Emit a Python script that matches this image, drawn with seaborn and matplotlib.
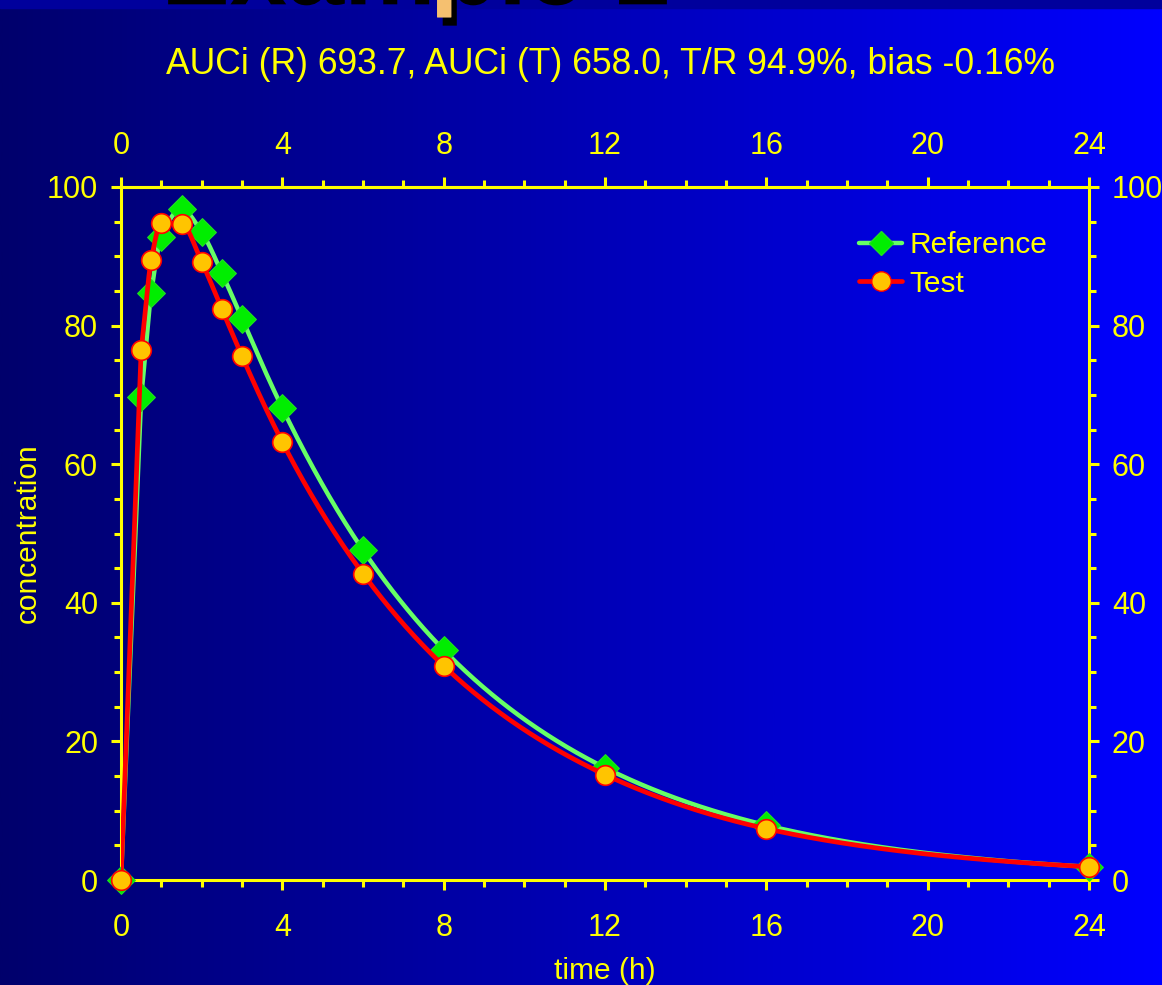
import numpy as np
import pandas as pd
import matplotlib
matplotlib.use("Agg")
import matplotlib.pyplot as plt
from matplotlib.lines import Line2D
from matplotlib.ticker import MultipleLocator
import matplotlib.patheffects as pe
import seaborn as sns

# ---- data -------------------------------------------------------------
time_h = [0, 0.5, 0.75, 1, 1.5, 2, 2.5, 3, 4, 6, 8, 12, 16, 24]
reference = [0, 69.7, 84.7, 92.8, 96.8, 93.5, 87.6, 81.0, 68.1, 47.6, 33.2, 16.2, 7.9, 1.9]
test = [0, 76.5, 89.5, 94.8, 94.7, 89.2, 82.4, 75.6, 63.2, 44.2, 30.9, 15.2, 7.4, 1.9]
series_names = ["Reference", "Test"]
title_text = "AUCi (R) 693.7, AUCi (T) 658.0, T/R 94.9%, bias -0.16%"
heading_text = "Example 1"
x_ticks = [0, 4, 8, 12, 16, 20, 24]
y_ticks = [0, 20, 40, 60, 80, 100]


def pchip(x, y, xs):
    """Monotone cubic (Fritsch-Carlson) curve through the sample points."""
    x = np.asarray(x, float)
    y = np.asarray(y, float)
    h = np.diff(x)
    d = np.diff(y) / h
    n = len(x)
    m = np.zeros(n)
    for k in range(1, n - 1):
        if d[k - 1] * d[k] > 0:
            w1 = 2 * h[k] + h[k - 1]
            w2 = h[k] + 2 * h[k - 1]
            m[k] = (w1 + w2) / (w1 / d[k - 1] + w2 / d[k])
    m[0] = d[0]
    m[-1] = d[-1]
    idx = np.clip(np.searchsorted(x, xs) - 1, 0, n - 2)
    t = (xs - x[idx]) / h[idx]
    h00 = 2 * t**3 - 3 * t**2 + 1
    h10 = t**3 - 2 * t**2 + t
    h01 = -2 * t**3 + 3 * t**2
    h11 = t**3 - t**2
    return (h00 * y[idx] + h10 * h[idx] * m[idx]
            + h01 * y[idx + 1] + h11 * h[idx] * m[idx + 1])


def smooth_profile(t, c, xs):
    """Straight rise from the zero sample, then a log-domain monotone curve."""
    t = np.asarray(t, float)
    c = np.asarray(c, float)
    pos = c > 0
    t0 = t[pos][0]
    out = np.empty_like(xs)
    early = xs < t0
    out[early] = np.interp(xs[early], t, c)
    out[~early] = np.exp(pchip(t[pos], np.log(c[pos]), xs[~early]))
    return out


sns.set_style("white")
plt.rcParams["font.family"] = ["Liberation Sans", "DejaVu Sans"]

YELLOW = "#FFFF00"
GREEN_LINE = "#66FF66"
GREEN_MARK = "#00EE00"
RED = "#FF0000"
GOLD = "#FFC400"

fig = plt.figure(figsize=(11.62, 9.85), dpi=100)

# horizontal navy-to-blue backdrop
bg = fig.add_axes([0, 0, 1, 1], zorder=-10)
grad = np.linspace(0, 1, 512)[None, :]
cmap = matplotlib.colors.LinearSegmentedColormap.from_list(
    "slide", ["#00006C", "#0000FF"])
bg.imshow(grad, aspect="auto", cmap=cmap, extent=[0, 1, 0, 1])
bg.axhspan(1 - 8 / 985, 1, color="#00009C")
bg.set_xlim(0, 1)
bg.set_ylim(0, 1)
bg.axis("off")

# slide heading, mostly above the top edge
fig.text(0.134, 1.0 + 4 / 985, heading_text, fontsize=74, fontweight="bold",
         color="#F5C070", va="baseline", ha="left",
         path_effects=[pe.withSimplePatchShadow(offset=(4, -6),
                                                shadow_rgbFace="black",
                                                alpha=1.0),
                       pe.Normal()])

ax = fig.add_axes([121 / 1162, 105 / 985, 968 / 1162, 693 / 985])
ax.patch.set_alpha(0)

xs = np.linspace(0, 24, 1600)
curve = pd.DataFrame({
    "time": np.concatenate([xs, xs]),
    "conc": np.concatenate([smooth_profile(time_h, reference, xs),
                            smooth_profile(time_h, test, xs)]),
    "series": [series_names[0]] * len(xs) + [series_names[1]] * len(xs),
})
points = pd.DataFrame({
    "time": time_h * 2,
    "conc": reference + test,
    "series": [series_names[0]] * len(time_h) + [series_names[1]] * len(time_h),
})

sns.lineplot(data=curve[curve.series == "Reference"], x="time", y="conc",
             color=GREEN_LINE, lw=3.2, ax=ax, zorder=3, legend=False)
sns.scatterplot(data=points[points.series == "Reference"], x="time", y="conc",
                marker="D", s=200, color=GREEN_MARK, edgecolor="#22DD22",
                linewidth=0.8, ax=ax, zorder=4, legend=False, clip_on=False)
sns.lineplot(data=curve[curve.series == "Test"], x="time", y="conc",
             color=RED, lw=3.4, ax=ax, zorder=5, legend=False)
sns.scatterplot(data=points[points.series == "Test"], x="time", y="conc",
                marker="o", s=200, color=GOLD, edgecolor=RED,
                linewidth=1.2, ax=ax, zorder=6, legend=False, clip_on=False)

ax.set_xlim(0, 24)
ax.set_ylim(0, 100)
ax.set_xticks(x_ticks)
ax.set_yticks(y_ticks)
ax.xaxis.set_minor_locator(MultipleLocator(1))
ax.yaxis.set_minor_locator(MultipleLocator(5))

for side in ["left", "right", "top", "bottom"]:
    ax.spines[side].set_visible(True)
    ax.spines[side].set_color(YELLOW)
    ax.spines[side].set_linewidth(2.2)

ax.tick_params(which="both", direction="out", color=YELLOW, width=2.2,
               labelcolor=YELLOW, labelsize=22,
               left=True, bottom=True, top=False, labeltop=False,
               right=True, labelright=True)
ax.tick_params(which="major", length=7.5)
ax.tick_params(which="minor", length=5.2)
ax.tick_params(axis="x", which="major", pad=16)
ax.tick_params(axis="y", which="major", pad=9)

# hour scale repeated along the top edge
top = ax.secondary_xaxis("top")
top.set_xticks(x_ticks)
top.xaxis.set_minor_locator(MultipleLocator(1))
top.spines["top"].set_color(YELLOW)
top.spines["top"].set_linewidth(2.2)
top.tick_params(which="both", direction="out", color=YELLOW, width=2.2,
                labelcolor=YELLOW, labelsize=22)
top.tick_params(which="major", length=7.5, pad=11)
top.tick_params(which="minor", length=5.2)

ax.set_xlabel("time (h)", color=YELLOW, fontsize=21.5, labelpad=10)
ax.set_ylabel("concentration", color=YELLOW, fontsize=21.5, labelpad=4)
fig.text(0.525, 0.935, title_text, color=YELLOW, fontsize=25.6,
         ha="center", va="center")

handles = [
    Line2D([], [], color=GREEN_LINE, lw=3.2, marker="D", markersize=12,
           markerfacecolor=GREEN_MARK, markeredgecolor="#22DD22"),
    Line2D([], [], color=RED, lw=3.4, marker="o", markersize=14,
           markerfacecolor=GOLD, markeredgecolor=RED),
]
leg = ax.legend(handles, series_names, loc="upper right", frameon=False,
                fontsize=21.5, handlelength=1.45, handletextpad=0.25,
                labelspacing=0.35, bbox_to_anchor=(0.985, 0.975))
for t in leg.get_texts():
    t.set_color(YELLOW)

fig.savefig("out.png", dpi=100)
